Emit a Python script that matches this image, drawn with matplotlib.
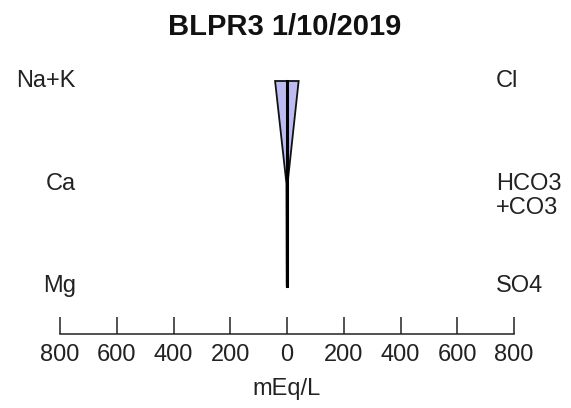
import matplotlib
matplotlib.use("Agg")
import matplotlib.pyplot as plt
from matplotlib.patches import Polygon

plt.rcParams['font.family'] = ['Liberation Sans', 'DejaVu Sans']

title = "BLPR3 1/10/2019"
cations = ["Na+K", "Ca", "Mg"]
anions = [["Cl"], ["HCO3", "+CO3"], ["SO4"]]
cation_values = [42, 2, 1]     # mEq/L
anion_values = [41, 2, 1]      # mEq/L
tick_values = [-800, -600, -400, -200, 0, 200, 400, 600, 800]

W, H = 571, 408
fig = plt.figure(figsize=(W / 100, H / 100), dpi=100)
# axes pixel box: x 60..514, y 60..334 (from top)
ax = fig.add_axes([60 / W, (H - 334) / H, (514 - 60) / W, (334 - 60) / H])

row_step = 102.5
ax.set_xlim(-800, 800)
ax.set_ylim((334 - 81) / row_step, (60 - 81) / row_step)

rows = list(range(len(cations)))
pts = [(-v, r) for v, r in zip(cation_values, rows)]
pts += [(v, r) for v, r in reversed(list(zip(anion_values, rows)))]
poly = Polygon(pts, closed=True, facecolor="#bcbcf2", edgecolor="#111111", lw=1.3, zorder=2)
ax.add_patch(poly)
ax.plot([0, 0], [rows[0], rows[-1]], color="black", lw=2.2, zorder=3)

txt_color = "#222222"
px2x = 1600 / 454.0
for r, lab in zip(rows, cations):
    ax.text(-800 + 16 * px2x, r, lab, ha="right", va="center", fontsize=17, color=txt_color)
for r, labs in zip(rows, anions):
    for k, lab in enumerate(labs):
        ax.text(800 - 18 * px2x, r + k * 25 / row_step, lab, ha="left", va="center",
                fontsize=17, color=txt_color)

for s in ["top", "left", "right"]:
    ax.spines[s].set_visible(False)
ax.spines["bottom"].set_linewidth(1.1)
ax.spines["bottom"].set_color("#222222")
ax.set_yticks([])
ax.set_xticks(tick_values)
ax.set_xticklabels([str(abs(t)) for t in tick_values], fontsize=17, color=txt_color)
ax.tick_params(axis="x", direction="in", length=12.2, width=1.1, pad=7, colors="#222222",
               labelcolor=txt_color)
ax.set_xlabel("mEq/L", fontsize=17, color=txt_color, labelpad=9)

fig.text(285 / W, 1 - 27 / H, title, ha="center", va="center",
         fontsize=21, fontweight="bold", color="#111111")

fig.savefig("out.png", dpi=100)
